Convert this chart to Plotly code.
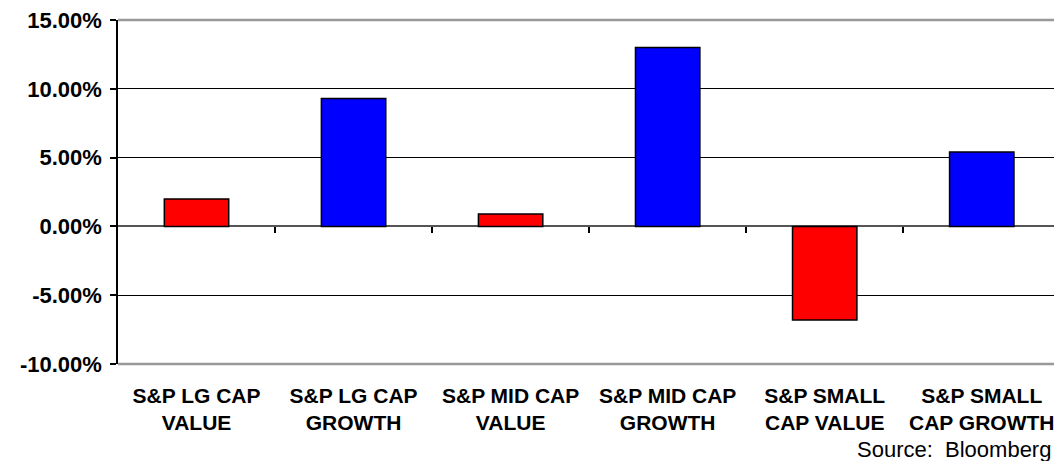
import plotly.graph_objects as go

categories = ["S&P LG CAP<br>VALUE", "S&P LG CAP<br>GROWTH", "S&P MID CAP<br>VALUE",
              "S&P MID CAP<br>GROWTH", "S&P SMALL<br>CAP VALUE", "S&P SMALL<br>CAP GROWTH"]
returns = [2.0, 9.3, 0.9, 13.0, -6.8, 5.4]
colors = ["#FF0000", "#0000FF", "#FF0000", "#0000FF", "#FF0000", "#0000FF"]
y_ticks = [15, 10, 5, 0, -5, -10]
y_ticklabels = ["15.00%", "10.00%", "5.00%", "0.00%", "-5.00%", "-10.00%"]
boundaries = [0.5, 1.5, 2.5, 3.5, 4.5]

fig = go.Figure()
fig.add_trace(go.Bar(
    x=categories, y=returns, width=0.41,
    marker=dict(color=colors, line=dict(color="black", width=1.5)),
    showlegend=False,
))
# helper trace so the zero-line tick axis is drawn
fig.add_trace(go.Scatter(x=boundaries, y=[0]*len(boundaries), xaxis="x2", mode="markers",
                         marker=dict(size=0.1, opacity=0), hoverinfo="skip", showlegend=False))

xr = [-0.5, 5.46]
fig.update_layout(
    width=1054, height=461,
    margin=dict(l=118, r=0, t=20, b=97),
    plot_bgcolor="white", paper_bgcolor="white",
    font=dict(family="Liberation Sans, Arial, sans-serif", color="black"),
    bargap=0.59,
    xaxis=dict(range=xr, showgrid=False, zeroline=False, showline=False, ticks="",
               ticklabelstandoff=17,
               tickfont=dict(size=21, family="Liberation Sans, Arial", weight="bold"),
               fixedrange=True),
    xaxis2=dict(range=xr, overlaying="x", anchor="free", position=0.4, side="bottom",
                showgrid=False, zeroline=False, showline=False,
                tickmode="array", tickvals=boundaries, ticks="outside", ticklen=6,
                tickcolor="black", tickwidth=1.5, showticklabels=False),
    yaxis=dict(range=[-10, 15], tickmode="array", tickvals=y_ticks, ticktext=y_ticklabels,
               ticks="outside", ticklen=6, tickcolor="black", tickwidth=1.5,
               ticklabelstandoff=4,
               showgrid=True, gridcolor="black", gridwidth=1,
               zeroline=True, zerolinecolor="#555555", zerolinewidth=1.5,
               showline=True, linecolor="black", linewidth=1.5,
               tickfont=dict(size=22, family="Liberation Sans, Arial", weight="bold")),
    shapes=[
        dict(type="line", xref="paper", yref="paper", x0=0, x1=1, y0=1, y1=1,
             line=dict(color="#999999", width=2.5)),
        dict(type="line", xref="paper", yref="paper", x0=0, x1=1, y0=0, y1=0,
             line=dict(color="#999999", width=2.5)),
    ],
    annotations=[
        dict(text="Source:  Bloomberg", xref="paper", yref="paper", x=1, y=0,
             xanchor="right", yanchor="bottom", xshift=-1, yshift=-100, showarrow=False,
             font=dict(size=22, family="Liberation Sans, Arial", color="black")),
    ],
)

fig.write_html("out.html")
